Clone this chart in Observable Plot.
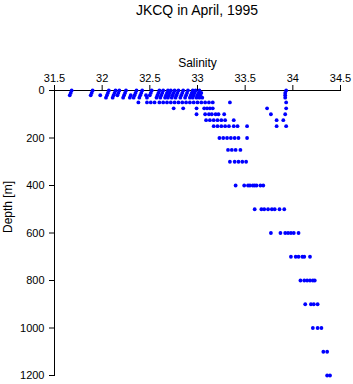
<!DOCTYPE html>
<html>
<head>
<meta charset="utf-8">
<script src="https://cdn.jsdelivr.net/npm/d3@7"></script>
<script src="https://cdn.jsdelivr.net/npm/@observablehq/plot@0.6"></script>
<style>
  html, body { margin: 0; padding: 0; background: #fff; }
  #title { width: 353px; height: 20px; box-sizing: border-box; padding-left: 41px; text-align: center;
           font-family: "Liberation Sans", Arial, sans-serif; font-size: 14px; line-height: 20px; color: #000; }
  #chart svg { display: block; }
</style>
</head>
<body>
<div id="title">JKCQ in April, 1995</div>
<div id="chart"></div>
<script>
// Salinity values observed at each standard depth (m)
const depths = [0, 10, 20, 30, 50, 75, 100, 125, 150, 200, 250, 300, 400, 500, 600, 700, 800, 900, 1000, 1100, 1200];
const sal0 = [31.68, 31.90, 32.07, 32.14, 32.18, 32.25, 32.36, 32.42, 32.52, 32.60, 32.64, 32.69, 32.72, 32.76, 32.80, 32.85, 32.90, 32.95, 32.98, 33.02, 33.93];
const sal10 = [31.67, 31.89, 32.06, 32.13, 32.17, 32.24, 32.35, 32.41, 32.51, 32.59, 32.63, 32.68, 32.71, 32.75, 32.79, 32.84, 32.89, 32.94, 32.97, 33.01, 33.04, 33.92];
const sal20 = [31.66, 31.88, 31.98, 32.05, 32.12, 32.16, 32.23, 32.30, 32.34, 32.40, 32.46, 32.50, 32.58, 32.62, 32.67, 32.70, 32.74, 32.78, 32.83, 32.88, 32.93, 32.96, 33.00, 33.03, 33.92];
const sal30 = [32.04, 32.11, 32.22, 32.29, 32.33, 32.39, 32.47, 32.57, 32.61, 32.66, 32.69, 32.73, 32.77, 32.82, 32.87, 32.92, 32.95, 32.99, 33.02, 33.05, 33.92];
const sal50 = [32.38, 32.47, 32.51, 32.55, 32.60, 32.64, 32.68, 32.72, 32.76, 32.80, 32.84, 32.88, 32.92, 32.96, 33.00, 33.04, 33.08, 33.12, 33.16, 33.34, 33.93];
const sal75 = [32.75, 32.85, 32.99, 33.07, 33.10, 33.13, 33.16, 33.73, 33.93];
const sal100 = [32.99, 33.08, 33.12, 33.15, 33.19, 33.22, 33.28, 33.77, 33.92];
const sal125 = [33.09, 33.13, 33.17, 33.21, 33.25, 33.29, 33.38, 33.83, 33.90];
const sal150 = [33.17, 33.21, 33.25, 33.29, 33.33, 33.38, 33.42, 33.52, 33.83, 33.93];
const sal200 = [33.23, 33.27, 33.31, 33.35, 33.39, 33.43, 33.52];
const sal250 = [33.32, 33.36, 33.40, 33.45];
const sal300 = [33.34, 33.39, 33.43, 33.47, 33.51];
const sal400 = [33.40, 33.49, 33.53, 33.55, 33.58, 33.60, 33.62, 33.66, 33.69];
const sal500 = [33.60, 33.67, 33.70, 33.74, 33.78, 33.81, 33.86, 33.91];
const sal600 = [33.77, 33.87, 33.92, 33.95, 33.98, 34.01, 34.06];
const sal700 = [33.98, 34.03, 34.06, 34.10, 34.12, 34.18];
const sal800 = [34.08, 34.12, 34.15, 34.18, 34.21, 34.23];
const sal900 = [34.13, 34.19, 34.22, 34.26];
const sal1000 = [34.21, 34.26, 34.30];
const sal1100 = [34.32, 34.36];
const sal1200 = [34.36, 34.39];

const xTicks = [31.5, 32, 32.5, 33, 33.5, 34, 34.5];
const yTicks = [0, 200, 400, 600, 800, 1000, 1200];
const xLabel = "Salinity";
const yLabel = "Depth [m]";

const byDepth = [sal0, sal10, sal20, sal30, sal50, sal75, sal100, sal125, sal150, sal200, sal250, sal300,
                 sal400, sal500, sal600, sal700, sal800, sal900, sal1000, sal1100, sal1200];
const data = [];
depths.forEach((d, i) => byDepth[i].forEach(s => data.push({depth: d, salinity: s})));

const chart = Plot.plot({
  width: 353,
  height: 364,
  marginTop: 70,
  marginBottom: 9,
  marginLeft: 54,
  marginRight: 13,
  style: {fontFamily: "'Liberation Sans', Arial, sans-serif", fontSize: "11px", color: "#000", background: "#fff"},
  x: {
    domain: [31.5, 34.5], axis: "top", ticks: xTicks, tickFormat: d => String(d),
    tickSize: 6, tickPadding: 3, line: true, label: null
  },
  y: {
    domain: [0, 1200], reverse: true, ticks: yTicks, tickFormat: d => String(d),
    tickSize: 5, tickPadding: 5, line: true, label: null
  },
  marks: [
    Plot.dot(data, {x: "salinity", y: "depth", r: 1.9, fill: "#0000ff"}),
    Plot.text([xLabel], {frameAnchor: "top", dy: -32, text: d => d, fontSize: 12}),
    Plot.text([yLabel], {frameAnchor: "left", dx: -46, rotate: -90, text: d => d, fontSize: 12})
  ]
});
document.getElementById("chart").appendChild(chart);
</script>
</body>
</html>
